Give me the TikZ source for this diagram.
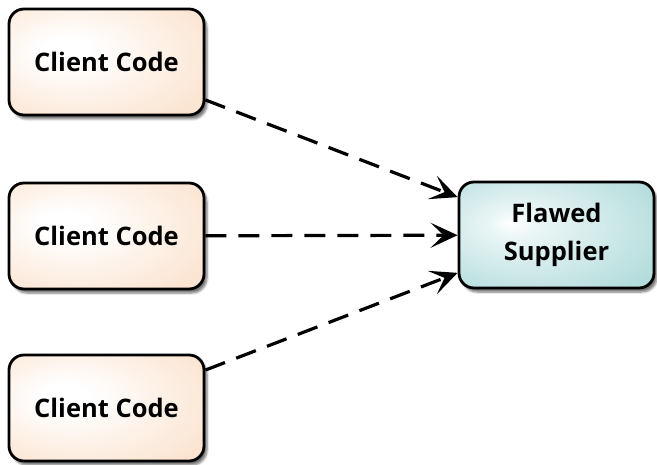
\documentclass[tikz,border=0pt]{standalone}
\usepackage{fontspec}
\setmainfont{Open Sans}
\usetikzlibrary{arrows.meta,shadows.blur}

\definecolor{peach}{HTML}{FADCC3}
\definecolor{teal}{HTML}{A2D4D4}

% soft glow, lightest slightly up and to the left of the centre
\pgfdeclareradialshading{clientglow}{\pgfpoint{-12bp}{6bp}}{%
  color(0bp)=(white); color(6bp)=(white); color(35bp)=(peach!75); color(60bp)=(peach)}
\pgfdeclareradialshading{supplierglow}{\pgfpoint{-12bp}{6bp}}{%
  color(0bp)=(white); color(6bp)=(white!30!teal!30); color(35bp)=(teal!80); color(60bp)=(teal)}

\begin{document}
\begin{tikzpicture}[x=1pt,y=-1pt,
  box/.style={draw=black, line width=2.8pt, rounded corners=15pt,
    minimum width=195pt, minimum height=106pt, align=center,
    font=\fontsize{25.5}{38}\selectfont\bfseries,
    blur shadow={shadow xshift=3pt, shadow yshift=-4pt, shadow blur steps=6, shadow opacity=55}},
  client/.style={box, shading=clientglow},
  supplier/.style={box, shading=supplierglow},
  uses/.style={draw=black, line width=3.2pt, dash pattern=on 21pt off 12pt,
    -{Stealth[length=27pt,width=25pt,inset=13pt]}}]
  \useasboundingbox (0,0) rectangle (657,465);

  \node[client] (c1) at (106.5,62) {Client Code};
  \node[client] (c2) at (106.5,236) {Client Code};
  \node[client] (c3) at (106.5,408) {Client Code};
  \node[supplier] (s) at (556.5,235) {Flawed\\Supplier};

  \draw[uses] (c1) -- (s);
  \draw[uses] (c2) -- (s);
  \draw[uses] (c3) -- (s);
\end{tikzpicture}
\end{document}
